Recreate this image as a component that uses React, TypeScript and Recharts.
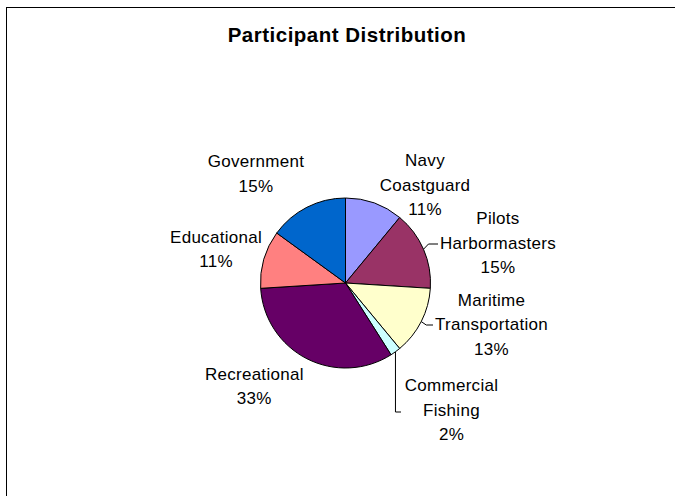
import React from "react";
import { PieChart, Pie, Cell } from "recharts";

const TITLE = "Participant Distribution";
const CATEGORIES = [
  "Navy Coastguard",
  "Pilots Harbormasters",
  "Maritime Transportation",
  "Commercial Fishing",
  "Recreational",
  "Educational",
  "Government",
];
const VALUES = [11, 15, 13, 2, 33, 11, 15];
const COLORS = ["#9999FF", "#993366", "#FFFFCC", "#CCFFFF", "#660066", "#FF8080", "#0066CC"];

// label block placement relative to pie centre (styling/layout only)
const LABEL_LAYOUT: { dx: number; dy: number; leader?: { type: string; ex: number; ey: number } }[] = [
  { dx: 79.5, dy: -98 },
  { dx: 152.5, dy: -40, leader: { type: "straight", ex: -60, ey: 1 } },
  { dx: 146, dy: 41.5, leader: { type: "straight", ex: -58.5, ey: 0.5 } },
  { dx: 106, dy: 127, leader: { type: "elbow", ex: -50.5, ey: 2 } },
  { dx: -91.2, dy: 103.5 },
  { dx: -129.5, dy: -33.5 },
  { dx: -89.5, dy: -109 },
];

const data = CATEGORIES.map((name, i) => ({ name, value: VALUES[i] }));

const FONT = "'Liberation Sans', Arial, sans-serif";
const LINE_H = 24.5;
const RADIAN = Math.PI / 180;

const renderLabel = (props: any) => {
  const { cx, cy, midAngle, outerRadius, percent, index } = props;
  const layout = LABEL_LAYOUT[index];
  const lines = [...CATEGORIES[index].split(" "), `${Math.round(percent * 100)}%`];
  const bx = cx + layout.dx;
  const by = cy + layout.dy;
  const top = by - ((lines.length - 1) * LINE_H) / 2;
  let leader: React.ReactNode = null;
  if (layout.leader) {
    const sx = cx + outerRadius * Math.cos(-midAngle * RADIAN);
    const sy = cy + outerRadius * Math.sin(-midAngle * RADIAN);
    const ex = bx + layout.leader.ex;
    const ey = by + layout.leader.ey;
    const pts =
      layout.leader.type === "elbow"
        ? `${sx},${sy} ${sx},${ey} ${ex},${ey}`
        : `${sx},${sy} ${sx + 5},${ey} ${ex},${ey}`;
    leader = <polyline points={pts} fill="none" stroke="#000" strokeWidth={1} />;
  }
  return (
    <g key={`lbl-${index}`}>
      {leader}
      {lines.map((t, i) => (
        <text
          key={i}
          x={bx}
          y={top + i * LINE_H}
          textAnchor="middle"
          dominantBaseline="central"
          fontFamily={FONT}
          fontSize={17}
          letterSpacing={0.28}
          fill="#000"
        >
          {t}
        </text>
      ))}
    </g>
  );
};

export default function App() {
  return (
    <div
      style={{
        position: "absolute",
        left: 0,
        top: 0,
        width: 675,
        height: 496,
        overflow: "hidden",
        background: "#fff",
      }}
    >
      <div
        style={{
          position: "absolute",
          left: 6,
          top: 7,
          width: 700,
          height: 520,
          borderLeft: "1px solid #000",
          borderTop: "1px solid #000",
        }}
      />
      <div
        style={{
          position: "absolute",
          left: 0,
          top: 25,
          width: 694,
          textAlign: "center",
          fontFamily: FONT,
          fontWeight: "bold",
          fontSize: 20.5,
          lineHeight: "20.5px",
          letterSpacing: 0.5,
          color: "#000",
        }}
      >
        {TITLE}
      </div>
      <div style={{ position: "absolute", left: 0, top: 0 }}>
        <PieChart width={675} height={496} margin={{ top: 0, right: 0, bottom: 0, left: 0 }}>
          <Pie
            data={data}
            dataKey="value"
            nameKey="name"
            cx={345.5}
            cy={283}
            outerRadius={85}
            startAngle={90}
            endAngle={-270}
            stroke="#000"
            strokeWidth={1}
            label={renderLabel}
            labelLine={false}
            isAnimationActive={false}
          >
            {data.map((d, i) => (
              <Cell key={d.name} fill={COLORS[i]} stroke="#000" strokeWidth={1} />
            ))}
          </Pie>
        </PieChart>
      </div>
    </div>
  );
}
